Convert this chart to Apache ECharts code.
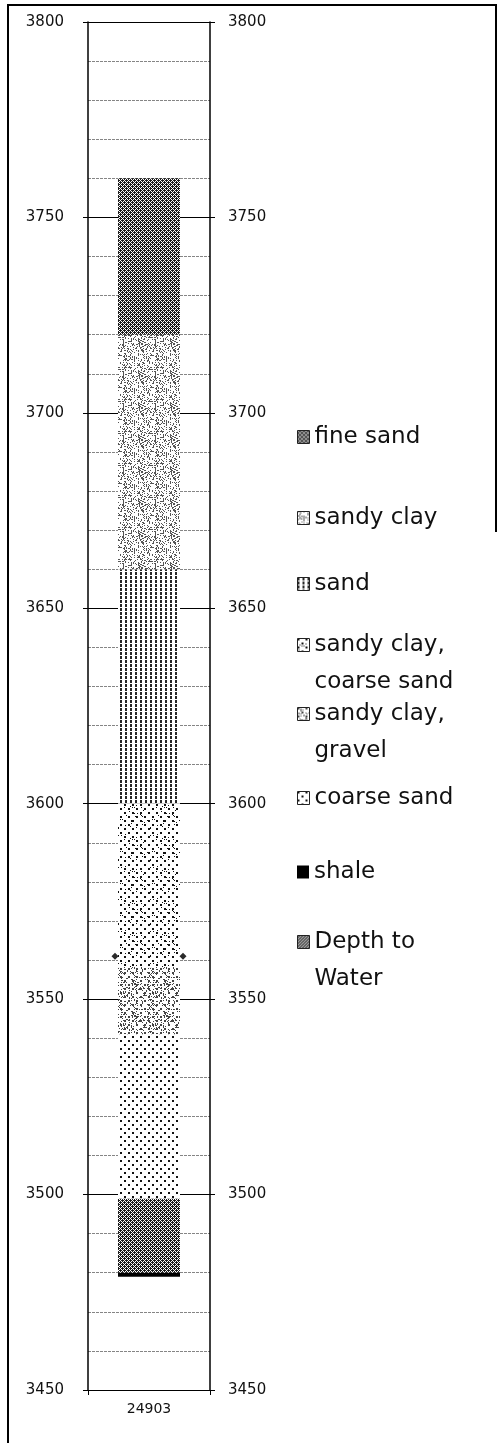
<!DOCTYPE html>
<html><head><meta charset="utf-8">
<script src="https://cdn.jsdelivr.net/npm/echarts@6/dist/echarts.min.js"></script>
<style>html,body{margin:0;padding:0;background:#fff}#c{width:498px;height:1443px}</style>
</head><body><div id="c"></div>
<script>
// ---- data ----
const categories = ['24903'];
const wellBottom = 3479;
const layerNames = ['shale', 'fine sand', 'coarse sand', 'sandy clay, gravel', 'sandy clay, coarse sand', 'sand', 'sandy clay', 'fine sand'];
const layerTops  = [3480, 3499, 3541, 3558, 3600, 3660, 3720, 3760];
const depthToWater = [3561];
const yMin = 3450, yMax = 3800, yInterval = 50;
const legendNames = ['fine sand', 'sandy clay', 'sand', 'sandy clay, coarse sand', 'sandy clay, gravel', 'coarse sand', 'shale', 'Depth to Water'];

// ---- texture patterns (visual fill only) ----
function hash(x, y) {
  let h = (x * 374761393 + y * 668265263) | 0;
  h = (h ^ (h >>> 13)) * 1274126177 | 0;
  return ((h ^ (h >>> 16)) >>> 0) % 100;
}
function makePattern(w, h, color, fn) {
  const c = document.createElement('canvas');
  c.width = w; c.height = h;
  const g = c.getContext('2d');
  g.fillStyle = '#ffffff'; g.fillRect(0, 0, w, h);
  g.fillStyle = color;
  for (let y = 0; y < h; y++) for (let x = 0; x < w; x++) if (fn(x, y)) g.fillRect(x, y, 1, 1);
  return { image: c, repeat: 'repeat' };
}
const dots = (x, y) => ((x % 8) < 2 && (y % 8) < 2) || ((x % 8) >= 4 && (x % 8) < 6 && (y % 8) >= 4 && (y % 8) < 6);
const patterns = {
  'fine sand': makePattern(4, 4, '#1c1c1c', (x, y) => !((x + y) % 4 === 0 || (x - y + 4) % 4 === 0)),
  'sandy clay': makePattern(32, 32, '#555', (x, y) => hash(x, y) < 28),
  'sand': makePattern(5, 4, '#262626', (x, y) => x < 2 && y < 3),
  'sandy clay, coarse sand': makePattern(32, 32, '#111', (x, y) => dots(x, y) || hash(x, y) < 4),
  'sandy clay, gravel': makePattern(32, 32, '#444', (x, y) => dots(x, y) || hash(x + 7, y) < 18),
  'coarse sand': makePattern(8, 8, '#111', dots),
  'shale': '#000000',
  'Depth to Water': makePattern(3, 3, '#333', (x, y) => (x + y) % 3 !== 0)
};

const FONT = 'DejaVu Sans';
const barWidth = 62;

const series = [{
  name: 'base', type: 'bar', stack: 'well', data: [wellBottom], barWidth: barWidth,
  itemStyle: { color: 'rgba(0,0,0,0)' }, silent: true
}];
let prev = wellBottom;
layerTops.forEach((top, i) => {
  series.push({
    name: layerNames[i], type: 'bar', stack: 'well', barWidth: barWidth,
    data: [top - prev], itemStyle: { color: patterns[layerNames[i]] }
  });
  prev = top;
});
series.push({
  name: 'Depth to Water', type: 'custom', z: 10,
  data: depthToWater.map(v => [0, v]),
  encode: { x: 0, y: 1 },
  itemStyle: { color: patterns['Depth to Water'] },
  renderItem: function (params, api) {
    const p = api.coord([api.value(0), api.value(1)]);
    const half = barWidth / 2 + 3, s = 3.5;
    return {
      type: 'group',
      children: [-1, 1].map(sg => ({
        type: 'polygon',
        shape: { points: [[p[0] + sg * half, p[1] - s], [p[0] + sg * half + s, p[1]], [p[0] + sg * half, p[1] + s], [p[0] + sg * half - s, p[1]]] },
        style: { fill: '#2a2a2a' }
      }))
    };
  }
});

// legend entry label text (line breaks as in the reference)
const legendLabels = {
  'sandy clay, coarse sand': ['sandy clay,', 'coarse sand'],
  'sandy clay, gravel': ['sandy clay,', 'gravel'],
  'Depth to Water': ['Depth to', 'Water']
};
const LH = 37;
// first-line centre y of each legend entry
const legendY = [437, 518, 584, 645, 714, 798, 872, 942];
const legends = legendNames.map((n, i) => {
  const two = !!legendLabels[n];
  return {
    left: 297, top: legendY[i] - (two ? LH * 1.5 : LH / 2), orient: 'vertical', padding: 0,
    itemWidth: 12, itemHeight: 13, itemGap: 0, selectedMode: false,
    formatter: function (name) {
      // a blank first line keeps the icon level with the first text line
      return legendLabels[name] ? ' \n' + legendLabels[name].join('\n') : name;
    },
    textStyle: { fontFamily: FONT, fontSize: 23, color: '#111', lineHeight: LH },
    data: [{ name: n, icon: 'rect', itemStyle: { color: patterns[n], borderColor: '#222', borderWidth: n === 'shale' ? 0 : 1 } }]
  };
});

const yLabel = v => String(v);

const chart = echarts.init(document.getElementById('c'));
chart.setOption({
  animation: false,
  backgroundColor: '#fff',
  grid: { left: 88, right: 288, top: 22, bottom: 53, containLabel: false },
  legend: legends,
  xAxis: {
    type: 'category', data: categories,
    axisLine: { lineStyle: { color: '#000', width: 1.2 } },
    axisTick: { show: true, length: 5, lineStyle: { color: '#000' } },
    axisLabel: { fontFamily: FONT, fontSize: 14, color: '#111', margin: 12 }
  },
  yAxis: [{
    type: 'value', min: yMin, max: yMax, interval: yInterval, position: 'left',
    axisLine: { show: true, lineStyle: { color: '#000', width: 1.5 } },
    axisTick: { show: true, length: 5, lineStyle: { color: '#000' } },
    axisLabel: { fontFamily: FONT, fontSize: 15, color: '#111', margin: 24, formatter: yLabel },
    splitLine: { show: true, lineStyle: { color: '#000', width: 1.2 } },
    minorTick: { show: false, splitNumber: 5 },
    minorSplitLine: { show: true, lineStyle: { color: '#666', width: 0.8, type: [3, 1] } }
  }, {
    type: 'value', min: yMin, max: yMax, interval: yInterval, position: 'right',
    axisLine: { show: true, lineStyle: { color: '#000', width: 1.5 } },
    axisTick: { show: true, length: 5, lineStyle: { color: '#000' } },
    axisLabel: { fontFamily: FONT, fontSize: 15, color: '#111', margin: 18, formatter: yLabel },
    splitLine: { show: false }
  }],
  graphic: [
    { type: 'polyline', silent: true, shape: { points: [[8, 1443], [8, 5], [496, 5], [496, 532]] }, style: { stroke: '#000', lineWidth: 2, fill: null } }
  ],
  series: series
});
</script>
</body></html>
